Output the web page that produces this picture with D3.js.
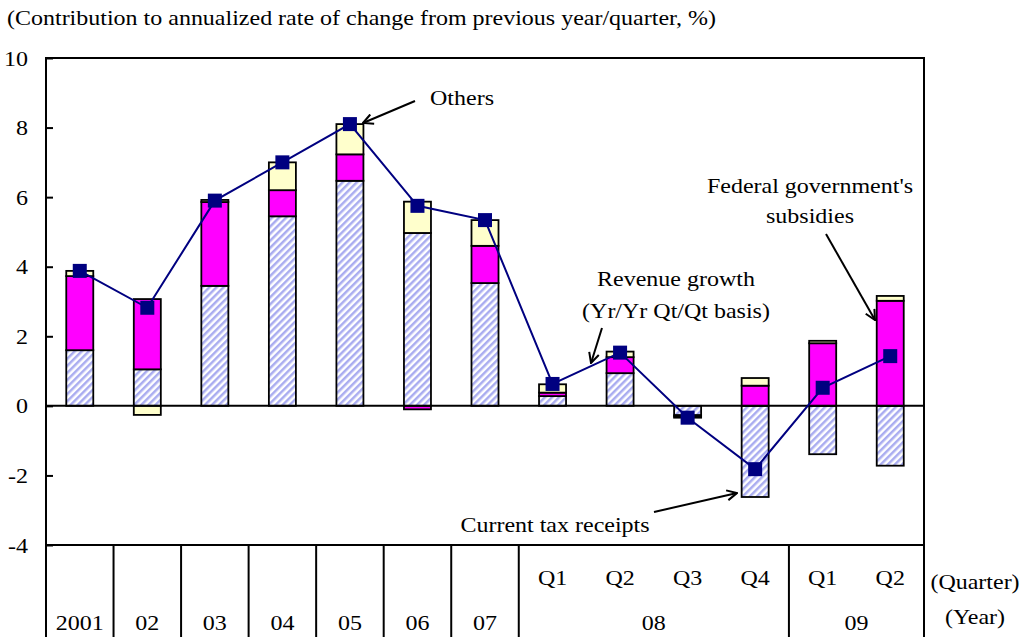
<!DOCTYPE html>
<html>
<head>
<meta charset="utf-8">
<script src="https://cdn.jsdelivr.net/npm/d3@7"></script>
<style>
  body { margin: 0; background: #fff; }
  svg text { font-family: "Liberation Serif", "Times New Roman", serif; font-size: 20px; fill: #000; }
</style>
</head>
<body>
<svg id="chart" width="1021" height="637"></svg>
<script>
// categories (13 periods)
const periods = ['2001', '02', '03', '04', '05', '06', '07', '08Q1', '08Q2', '08Q3', '08Q4', '09Q1', '09Q2'];
const quarterLabels = ['', '', '', '', '', '', '', 'Q1', 'Q2', 'Q3', 'Q4', 'Q1', 'Q2'];
const yearLabels = ['2001', '02', '03', '04', '05', '06', '07'];
const yearGroups = [{ label: '08', from: 7, to: 10 }, { label: '09', from: 11, to: 12 }];

// contributions, %
const taxReceipts = [1.6, 1.05, 3.45, 5.45, 6.47, 4.97, 3.53, 0.28, 0.94, -0.27, -2.62, -1.39, -1.72];
const subsidies   = [2.13, 2.02, 2.41, 0.75, 0.76, -0.1, 1.07, 0.1, 0.46, -0.04, 0.58, 1.8, 3.02];
const others      = [0.15, -0.26, 0.06, 0.8, 0.87, 0.9, 0.74, 0.24, 0.16, -0.03, 0.22, 0.07, 0.14];
const revenueGrowth = [3.88, 2.82, 5.9, 7.0, 8.1, 5.75, 5.34, 0.63, 1.53, -0.34, -1.82, 0.52, 1.43];

const yTicks = [-4, -2, 0, 2, 4, 6, 8, 10];

const svg = d3.select('#chart');
const plotL = 46, plotR = 924, plotT = 58, plotB = 545, tableB = 637;
const stretch = 1.2; // the source text is drawn wide

const x = d3.scaleBand().domain(periods).range([plotL, plotR]).paddingInner(0).paddingOuter(0);
const y = d3.scaleLinear().domain([-4, 10]).range([plotB, plotT]);
const barW = x.bandwidth() * 0.4;

// put a text at (px, py), stretched horizontally
function place(sel, px, py) {
  sel.attr('x', 0).attr('y', 0)
     .attr('transform', (d, i) => {
       const a = typeof px === 'function' ? px(d, i) : px;
       const b = typeof py === 'function' ? py(d, i) : py;
       return `translate(${a},${b}) scale(${stretch},1)`;
     });
  return sel;
}

// hatch pattern for tax receipts
const defs = svg.append('defs');
const pat = defs.append('pattern')
    .attr('id', 'hatch')
    .attr('patternUnits', 'userSpaceOnUse')
    .attr('width', 5).attr('height', 5)
    .attr('patternTransform', 'rotate(-45)');
pat.append('rect').attr('width', 5).attr('height', 5).attr('fill', '#fff');
pat.append('rect').attr('width', 5).attr('height', 2.5).attr('fill', '#a9acf0');

// stacked bars
const rows = periods.map((p, i) => ({ period: p, tax: taxReceipts[i], sub: subsidies[i], oth: others[i] }));
const keys = ['tax', 'sub', 'oth'];
const fills = { tax: 'url(#hatch)', sub: '#ff00ff', oth: '#ffffcc' };
const series = d3.stack().keys(keys).offset(d3.stackOffsetDiverging)(rows);

svg.append('g').selectAll('g')
  .data(series)
  .join('g')
    .attr('fill', d => fills[d.key])
  .selectAll('rect')
  .data(d => d)
  .join('rect')
    .attr('x', d => x(d.data.period) + (x.bandwidth() - barW) / 2)
    .attr('y', d => y(Math.max(d[0], d[1])))
    .attr('width', barW)
    .attr('height', d => Math.abs(y(d[0]) - y(d[1])))
    .attr('stroke', '#000')
    .attr('stroke-width', 1.8);

// zero line
svg.append('line')
    .attr('x1', plotL).attr('x2', plotR)
    .attr('y1', y(0)).attr('y2', y(0))
    .attr('stroke', '#000').attr('stroke-width', 2);

// revenue growth line
const cx = i => x(periods[i]) + x.bandwidth() / 2;
svg.append('path')
    .datum(revenueGrowth)
    .attr('fill', 'none')
    .attr('stroke', '#000080')
    .attr('stroke-width', 2)
    .attr('d', d3.line().x((d, i) => cx(i)).y(d => y(d)));

svg.append('g').selectAll('rect')
  .data(revenueGrowth)
  .join('rect')
    .attr('x', (d, i) => cx(i) - 7)
    .attr('y', d => y(d) - 7)
    .attr('width', 14).attr('height', 14)
    .attr('fill', '#000080');

// frame
svg.append('rect')
    .attr('x', plotL).attr('y', plotT)
    .attr('width', plotR - plotL).attr('height', plotB - plotT)
    .attr('fill', 'none').attr('stroke', '#000').attr('stroke-width', 2);

// y axis
const yAxis = svg.append('g')
    .attr('transform', `translate(${plotL},0)`)
    .call(d3.axisRight(y).tickValues(yTicks).tickSize(7).tickFormat(d => String(d)));
yAxis.select('.domain').remove();
yAxis.selectAll('.tick line').attr('stroke', '#000').attr('stroke-width', 2);
yAxis.selectAll('.tick text')
    .attr('dy', '0.35em')
    .attr('text-anchor', 'end')
    .attr('transform', `translate(-18,0) scale(${stretch},1)`)
    .attr('x', 0)
    .style('font-family', '"Liberation Serif", serif').style('font-size', '20px');

// category table below plot
const table = svg.append('g');
const boundaries = [0, 1, 2, 3, 4, 5, 6, 7, 11, 13];
table.selectAll('line.v')
  .data(boundaries)
  .join('line')
    .attr('x1', d => d < periods.length ? x(periods[d]) : plotR)
    .attr('x2', d => d < periods.length ? x(periods[d]) : plotR)
    .attr('y1', plotB).attr('y2', tableB)
    .attr('stroke', '#000').attr('stroke-width', 2);

place(table.selectAll('text.q')
  .data(quarterLabels)
  .join('text')
    .attr('text-anchor', 'middle')
    .text(d => d), (d, i) => cx(i), 585);

place(table.selectAll('text.yr')
  .data(yearLabels)
  .join('text')
    .attr('text-anchor', 'middle')
    .text(d => d), (d, i) => cx(i), 630);

place(table.selectAll('text.grp')
  .data(yearGroups)
  .join('text')
    .attr('text-anchor', 'middle')
    .text(d => d.label), d => (x(periods[d.from]) + x(periods[d.to]) + x.bandwidth()) / 2, 630);

place(svg.append('text').attr('text-anchor', 'middle').text('(Quarter)'), 975, 589);
place(svg.append('text').attr('text-anchor', 'middle').text('(Year)'), 975, 624);

// title
place(svg.append('text')
    .text('(Contribution to annualized rate of change from previous year/quarter, %)'), 7, 25);

// annotations
defs.append('marker')
    .attr('id', 'arrow')
    .attr('viewBox', '0 0 12 12')
    .attr('refX', 11).attr('refY', 6)
    .attr('markerWidth', 12).attr('markerHeight', 12)
    .attr('markerUnits', 'userSpaceOnUse')
    .attr('orient', 'auto')
  .append('path')
    .attr('d', 'M1,1 L11,6 L1,11')
    .attr('fill', 'none').attr('stroke', '#000').attr('stroke-width', 2);

const arrows = [
  [415, 101, 363, 123],
  [826, 234, 875, 320],
  [602, 328, 591, 363],
  [654, 512, 737, 493]
];
svg.append('g').selectAll('line')
  .data(arrows)
  .join('line')
    .attr('x1', d => d[0]).attr('y1', d => d[1])
    .attr('x2', d => d[2]).attr('y2', d => d[3])
    .attr('stroke', '#000').attr('stroke-width', 2)
    .attr('marker-end', 'url(#arrow)');

const notes = [
  ['Others', 462, 105],
  ["Federal government's", 810, 193],
  ['subsidies', 810, 223],
  ['Revenue growth', 676, 286],
  ['(Yr/Yr Qt/Qt basis)', 676, 318],
  ['Current tax receipts', 555, 532]
];
place(svg.append('g').selectAll('text')
  .data(notes)
  .join('text')
    .attr('text-anchor', 'middle')
    .text(d => d[0]), d => d[1], d => d[2]);
</script>
</body>
</html>
